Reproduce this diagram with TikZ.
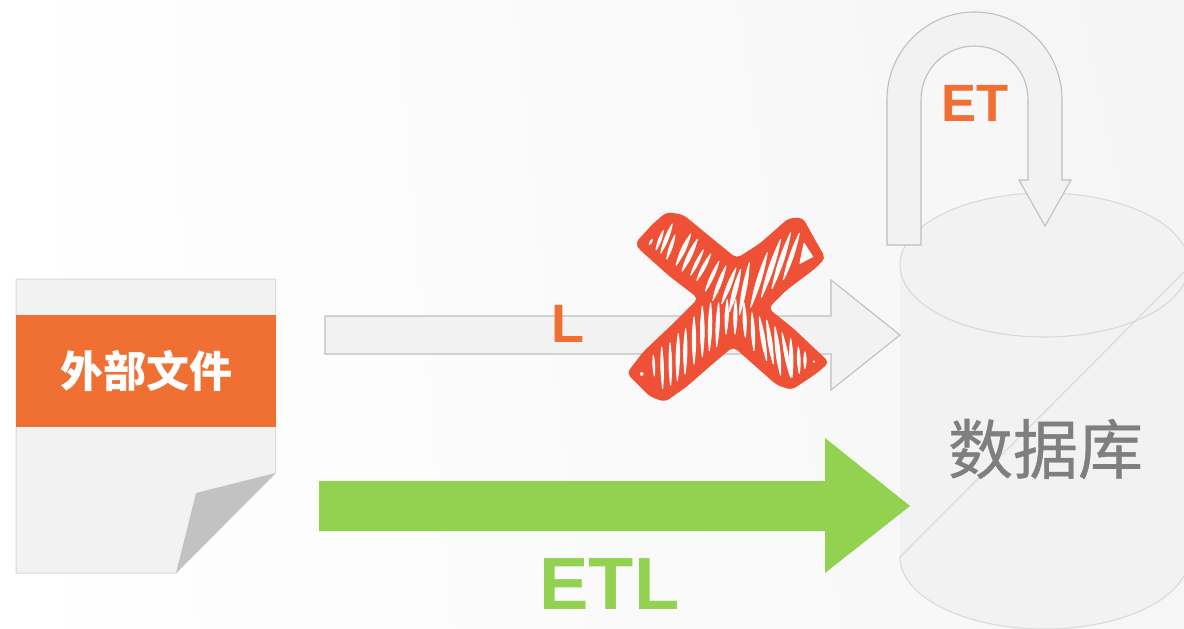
\documentclass[tikz,border=0pt]{standalone}
\usepackage{fontspec}
\setmainfont{Liberation Sans}
\newfontfamily\cjk{Noto Sans CJK SC}
\newfontfamily\cjkheavy[FakeBold=0.6]{Noto Sans CJK SC}
\usepackage{xcolor}
\usetikzlibrary{positioning,shadings}
\definecolor{tangerine}{HTML}{F06F32}
\definecolor{leaf}{HTML}{92D250}
\definecolor{crossred}{HTML}{EE5136}
\definecolor{paper}{HTML}{F2F2F2}
\definecolor{bk25}{HTML}{BFBFBF}
\definecolor{bk15}{HTML}{D9D9D9}
\definecolor{bk50}{HTML}{7F7F7F}
\tikzset{
  blockarrow/.style={draw=bk25, fill=paper, line width=1.1pt, line join=miter},
  flowarrow/.style={fill=leaf},
  dbline/.style={draw=bk15, line width=1.1pt},
  letterlabel/.style={font=\bfseries\fontsize{#1}{#1}\selectfont, inner sep=0pt, anchor=base},
  cjklabel/.style={font=\cjk\fontsize{#1}{#1}\selectfont, inner sep=0pt},
  hatchmark/.style={fill=white!70!paper, draw=white!70!paper, line width=1pt, line join=round},
}

\begin{document}
\begin{tikzpicture}[x=1pt, y=-1pt]
  \useasboundingbox (0,0) rectangle (1184,629);
  \clip (0,0) rectangle (1184,629);

  % Background
  \shade[upper left=white, lower left=white, upper right=paper!80!white, lower right=paper!70!white]
    (0,0) rectangle (1184,629);

  % Database cylinder
  \fill[paper] (900,265) -- (1189,265) -- (1189,557) arc[start angle=0, end angle=-180, x radius=144.5pt, y radius=72pt] -- cycle;
  \path[dbline, fill=paper] (1044.5,265) ellipse[x radius=144.5pt, y radius=72pt];
  \path[dbline] (1189,557) arc[start angle=0, end angle=-180, x radius=144.5pt, y radius=72pt] -- (1184,272);
  \node[cjklabel=65, text=bk50, font=\cjkheavy\fontsize{65}{65}\selectfont] (dbname) at (1045.5,449) {数据库};

  % Bent arrow on top of the database
  \path[blockarrow] (887,245) -- (887,99.5) arc[start angle=180, end angle=0, radius=87.5pt]
    -- (1062,180) -- (1071,180) -- (1045,226) -- (1019,180) -- (1028,180) -- (1028,99.5)
    arc[start angle=0, end angle=180, radius=53.5pt] -- (921,245) -- cycle;
  \node[letterlabel=52.5, text=tangerine] (etlabel) at (975.5,121) {ET};

  % External file
  \path[draw=bk15, fill=paper, line width=1pt] (16,279) -- (275.5,279) -- (275.5,473) -- (176,573) -- (16,573) -- cycle;
  \fill[bk25!95!white] (275.5,473) -- (196,493) -- (176,573) -- cycle;
  \fill[tangerine] (16,315) rectangle (276,427);
  \node[cjklabel=43, text=white, font=\cjk\bfseries\fontsize{43}{43}\selectfont] (filename) at (146,371) {外部文件};

  % Crossed out load arrow
  \path[blockarrow] (325,316) -- (831,316) -- (831,280) -- (900,335) -- (831,390) -- (831,354) -- (325,354) -- cycle;
  \node[letterlabel=54, text=tangerine] (llabel) at (568,342) {L};

  % Main arrow
  \path[flowarrow] (319,481) -- (825,481) -- (825,438) -- (910,506) -- (825,573) -- (825,531) -- (319,531) -- cycle;
  \node[letterlabel=74, text=leaf] (etllabel) at (609.5,609) {ETL};

  % Hand drawn cross
  \begin{scope}[shift={(620,200)}, x=0.3333pt, y=-0.3333pt]
    \fill[crossred, rounded corners=5pt] (45,130) -- (100,70) -- (140,36) -- (190,44) -- (270,110) -- (350,175)
      -- (420,130) -- (505,55) -- (548,52) -- (580,110) -- (617,175) -- (580,210) -- (500,270)
      -- (445,325) -- (520,385) -- (628,487) -- (590,520) -- (515,570) -- (470,555) -- (340,440)
      -- (280,490) -- (200,560) -- (135,606) -- (90,590) -- (20,520) -- (70,455) -- (160,370)
      -- (235,295) -- (150,230) -- (60,150) -- cycle;
    % hatch strokes, upper arms
    \foreach \xa/\ya/\xb/\yb/\bnd in {
      88/134/97/118/30, 108/150/130/92/12, 122/160/157/72/10, 140/178/165/105/10,
      168/196/212/102/11, 186/214/232/118/11, 212/226/250/150/9, 230/242/272/162/10,
      256/274/297/184/9, 278/302/318/198/9, 305/312/348/204/9, 328/336/362/208/9,
      358/346/388/188/7, 392/322/442/158/7, 424/292/482/118/7, 456/266/512/98/7,
      490/240/538/100/7} {
      \filldraw[hatchmark] (\xa,\ya) to[bend left=\bnd] (\xb,\yb) to[bend left=\bnd] (\xa,\ya);
    }
    % hatch strokes, lower arms
    \foreach \xa/\ya/\xb/\yb/\bnd in {
      100/465/103/528/8, 125/440/128/566/6, 150/428/152/556/6, 175/400/172/542/7,
      197/385/195/522/7, 222/350/222/492/7, 247/318/247/470/7, 272/308/268/452/7,
      296/308/290/440/7, 322/298/318/402/9, 347/298/345/402/9, 372/308/376/412/9,
      396/338/402/452/8, 418/350/440/482/8, 440/360/460/492/8, 465/380/482/526/8,
      486/398/512/532/7, 512/415/516/532/8, 535/440/538/520/10, 555/455/555/506/14} {
      \filldraw[hatchmark] (\xa,\ya) to[bend left=\bnd] (\xb,\yb) to[bend left=\bnd] (\xa,\ya);
    }
    \fill[hatchmark] (540,190) -- (578,170) -- (552,130) -- cycle;
    \fill[hatchmark] (65,522) circle[radius=1.5pt];
    \fill[hatchmark] (582,485) circle[radius=0.7pt];
  \end{scope}
\end{tikzpicture}
\end{document}
